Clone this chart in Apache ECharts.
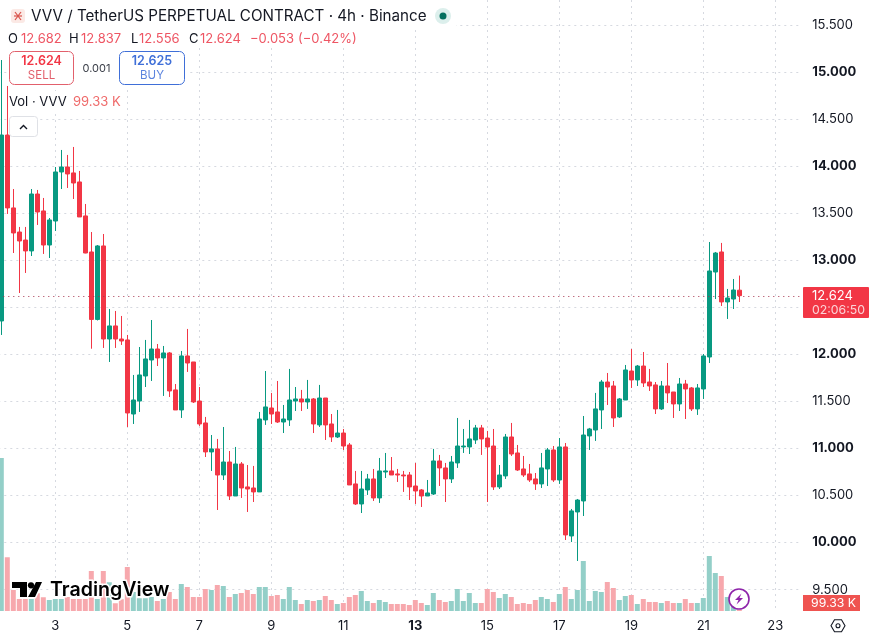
<!DOCTYPE html>
<html>
<head>
<meta charset="utf-8">
<title>VVV / TetherUS Perpetual 4h</title>
<style>html,body{margin:0;padding:0;background:#fff}#chart{width:874px;height:639px}</style>
<script src="https://cdn.jsdelivr.net/npm/echarts@6/dist/echarts.min.js"></script>
</head>
<body>
<div id="chart"></div>
<script>
// 4h candles, one value per bar
const opens = [12.355,14.331,13.556,13.300,13.215,13.099,13.704,13.524,13.162,13.417,
13.938,13.991,13.928,13.832,13.471,13.088,12.371,13.152,12.163,12.302,
12.163,12.153,11.366,11.504,11.770,11.940,12.057,11.962,12.015,11.622,
11.409,11.983,11.919,11.504,11.271,10.963,10.995,10.718,10.856,10.495,
10.835,10.591,10.580,10.538,11.303,11.430,11.388,11.281,11.303,11.504,
11.526,11.494,11.526,11.250,11.536,11.260,11.122,11.164,11.037,10.623,
10.410,10.559,10.676,10.474,10.750,10.761,10.729,10.718,10.718,10.601,
10.559,10.495,10.516,10.867,10.793,10.676,10.846,11.016,11.016,11.090,
11.218,11.111,11.026,10.591,10.708,11.122,10.952,10.782,10.729,10.676,
10.623,10.782,10.984,10.665,11.016,10.070,10.325,10.442,11.133,11.196,
11.409,11.706,11.664,11.335,11.515,11.823,11.728,11.876,11.706,11.675,
11.420,11.664,11.600,11.473,11.685,11.643,11.420,11.632,11.972,12.875,
13.088,12.557,12.588,12.682];
const closes = [14.331,13.556,13.290,13.205,13.099,13.704,13.513,13.162,13.428,13.938,
13.991,13.917,13.821,13.460,13.077,12.371,13.152,12.163,12.302,12.163,
12.142,11.377,11.515,11.781,11.951,12.057,11.962,12.015,11.611,11.409,
11.983,11.908,11.494,11.260,10.963,10.995,10.718,10.856,10.495,10.835,
10.580,10.569,10.538,11.313,11.441,11.366,11.281,11.313,11.515,11.526,
11.494,11.526,11.260,11.536,11.250,11.122,11.164,11.026,10.612,10.410,
10.569,10.676,10.474,10.761,10.761,10.718,10.718,10.708,10.591,10.548,
10.495,10.527,10.867,10.793,10.676,10.856,11.026,11.026,11.101,11.218,
11.101,11.016,10.591,10.718,11.122,10.941,10.771,10.718,10.665,10.623,
10.793,10.984,10.665,11.016,10.081,10.336,10.452,11.143,11.207,11.420,
11.706,11.653,11.324,11.526,11.834,11.728,11.876,11.696,11.664,11.420,
11.664,11.590,11.473,11.685,11.632,11.420,11.643,11.983,12.886,13.077,
12.557,12.599,12.684,12.624];
const lows = [12.206,13.492,13.077,12.652,12.865,13.045,13.375,13.067,13.024,13.311,
13.757,13.768,13.651,13.460,13.074,12.060,12.360,12.068,11.919,12.068,
12.100,11.228,11.260,11.388,11.653,11.717,11.876,11.558,11.547,11.409,
11.324,11.813,11.483,11.239,10.909,10.761,10.346,10.665,10.452,10.495,
10.474,10.325,10.431,10.538,11.250,11.260,11.271,11.164,11.239,11.398,
11.398,11.420,11.164,11.228,11.090,11.069,11.111,10.984,10.612,10.399,
10.314,10.506,10.442,10.421,10.686,10.718,10.644,10.538,10.452,10.410,
10.378,10.495,10.506,10.601,10.431,10.633,10.793,10.952,10.941,11.048,
10.931,10.431,10.559,10.569,10.676,10.920,10.761,10.697,10.644,10.559,
10.580,10.601,10.644,10.623,10.027,10.006,9.804,10.282,10.984,11.080,
11.207,11.462,11.228,11.324,11.515,11.643,11.664,11.653,11.611,11.366,
11.409,11.483,11.324,11.398,11.313,11.398,11.356,11.526,11.908,12.588,
12.514,12.376,12.482,12.556];
const highs = [15.128,14.852,13.757,13.354,13.354,13.757,13.747,13.662,13.449,13.991,
14.172,14.119,14.204,13.949,13.598,13.300,13.162,13.279,12.482,12.461,
12.408,12.206,11.781,12.078,12.153,12.365,12.110,12.089,12.025,11.685,
12.036,12.270,11.919,11.653,11.335,11.143,11.101,11.228,10.973,11.016,
10.856,10.824,10.814,11.388,11.823,11.590,11.717,11.462,11.845,11.653,
11.622,11.728,11.536,11.675,11.536,11.366,11.409,11.207,11.058,10.761,
10.761,10.729,10.782,10.899,10.952,10.909,10.782,10.761,10.750,10.846,
10.569,10.665,10.995,10.931,10.846,10.920,11.324,11.207,11.303,11.250,
11.250,11.186,11.207,10.824,11.154,11.271,11.037,10.920,10.835,10.739,
10.952,11.005,11.026,11.111,11.058,10.357,10.463,11.345,11.218,11.590,
11.728,11.802,11.717,11.536,11.887,12.057,11.887,12.025,11.845,11.706,
11.717,11.908,11.600,11.749,11.728,11.653,11.685,12.004,13.194,13.088,
13.184,12.695,12.801,12.837];
// Volume per bar, thousands of VVV
const volumes = [12240,4300,1680,960,960,960,1420,1100,880,960,
960,1120,960,960,960,3200,960,3200,2300,620,
940,3520,1520,1020,1020,1120,800,960,1520,960,
2160,1920,1120,1120,1760,1680,2080,2000,1120,1360,
1440,1680,1360,1920,1920,1200,1280,960,1920,880,
560,880,800,880,1200,880,560,640,1120,1280,
1600,800,640,880,720,560,560,560,480,880,
640,480,1440,880,720,800,1760,800,1440,640,
640,1760,1520,1040,1360,1120,560,640,560,880,
1120,960,720,1360,1920,960,1680,4000,800,1600,
1520,2320,1840,880,1200,1280,560,960,720,720,
640,800,640,640,960,640,640,1040,4400,3040,
2800,1120,480,99.33];
const dayLabels = ['3','5','7','9','11','13','15','17','19','21','23'];
const boldDay = '13';
const barCount = 134;      // 124 bars plus empty space to the right
const firstDayBar = 9;
const barsPerTwoDays = 12;

const UP = '#089981', DOWN = '#F23645';
const UP_VOL = '#93cfc8', DOWN_VOL = '#f7a8ad';
const INK = '#131722', GRID = '#d6d9e0';
const FONT = 'Inter, "Noto Sans", sans-serif';

const categories = new Array(barCount).fill('');
dayLabels.forEach((d, i) => { categories[firstDayBar + i * barsPerTwoDays] = d; });

const ohlc = opens.map((o, i) => [o, closes[i], lows[i], highs[i]]);
const volumeBars = volumes.map((v, i) => ({
  value: v,
  itemStyle: { color: closes[i] >= opens[i] ? UP_VOL : DOWN_VOL }
}));
const lastClose = closes[closes.length - 1];

const isDayTick = (idx) => categories[idx] !== '';

function txt(text, x, y, font, fill, align) {
  return { type: 'text', z: 20, silent: true,
    style: { text, x, y: y + 0.8, font, fill, align: align || 'left', verticalAlign: 'middle' } };
}
function box(x, y, width, height, fill, stroke, r) {
  return { type: 'rect', z: 19, silent: true, shape: { x, y, width, height, r: r || 0 },
    style: { fill, stroke: stroke || null, lineWidth: stroke ? 1 : 0 } };
}
function poly(points, style, z) {
  return { type: 'polygon', z: z || 20, silent: true, shape: { points }, style };
}
function stroke(points, color, width) {
  return { type: 'polyline', z: 20, silent: true, shape: { points },
    style: { stroke: color, lineWidth: width, fill: null } };
}

const f13 = '13px ' + FONT, RED_SOFT = '#ee5563';
const logoT = [[12,582],[27,582],[27,597],[20,597],[20,588],[12,588]];
const logoSlash = [[36,582],[42,582],[35,597],[28,597]];

const overlay = [
  // legend background keeps grid dots away from the text
  box(0, 0, 456, 28, '#fff'), box(0, 28, 362, 20, '#fff'),
  box(8, 48, 182, 38, '#fff'), box(8, 91, 118, 19, '#fff'),

  // symbol title
  box(11, 9, 14, 14, '#fbe9e5', null, 3),
  stroke([[15,12],[21,20]], '#d9534a', 1.2),
  stroke([[21,12],[15,20]], '#d9534a', 1.2),
  stroke([[14,16],[22,16]], '#d9534a', 1.2),
  txt('VVV / TetherUS PERPETUAL CONTRACT · 4h · Binance', 31, 16, '15.2px ' + FONT, INK),
  { type: 'circle', z: 20, silent: true, shape: { cx: 443, cy: 16, r: 8 }, style: { fill: '#dcefec' } },
  { type: 'circle', z: 21, silent: true, shape: { cx: 443, cy: 16, r: 3.5 }, style: { fill: '#05705f' } },

  // OHLC row
  txt('O', 8, 38, f13, INK), txt('12.682', 21, 38, f13, RED_SOFT),
  txt('H', 69, 38, f13, INK), txt('12.837', 81, 38, f13, RED_SOFT),
  txt('L', 131, 38, f13, INK), txt('12.556', 139, 38, f13, RED_SOFT),
  txt('C', 189, 38, f13, INK), txt('12.624', 200, 38, f13, RED_SOFT),
  txt('−0.053', 250, 38, f13, RED_SOFT), txt('(−0.42%)', 298, 38, f13, RED_SOFT),

  // bid / ask boxes
  box(9.5, 51.5, 64, 33, '#fff', '#e2606c', 5),
  txt('12.624', 41.5, 60.5, '600 12.5px ' + FONT, DOWN, 'center'),
  txt('SELL', 41.5, 75, '11.5px ' + FONT, '#e2606c', 'center'),
  txt('0.001', 96.5, 68, '11px ' + FONT, '#3a3e48', 'center'),
  box(119.5, 51.5, 65, 33, '#fff', '#3f6fd8', 5),
  txt('12.625', 152, 60.5, '600 12.5px ' + FONT, '#3f6fd8', 'center'),
  txt('BUY', 152, 75, '11.5px ' + FONT, '#5c84de', 'center'),

  // volume legend and collapse button
  txt('Vol · VVV', 9, 101, f13, INK),
  txt('99.33 K', 73, 101, f13, '#ef6a6a'),
  box(9.5, 116.5, 28, 20, '#fff', '#dfe1e6', 3),
  stroke([[20,129],[23.5,125.5],[27,129]], INK, 1.4),

  // last price tag
  box(803, 287, 66, 31, '#F23645', null, 1),
  txt('12.624', 812, 295.5, f13, '#fff'),
  txt('02:06:50', 812, 310, '12.3px ' + FONT, '#fbd3d7'),

  // volume tag
  box(803, 595, 57, 16, '#ef5350', null, 0),
  txt('99.33 K', 811, 603, '12.3px ' + FONT, '#fff'),

  // settings glyph
  poly([[831,625.7],[834.5,619.7],[841.5,619.7],[845,625.7],[841.5,631.7],[834.5,631.7]], { stroke: INK, lineWidth: 1.1, fill: null }),
  { type: 'circle', z: 20, silent: true, shape: { cx: 838, cy: 625.7, r: 2 }, style: { stroke: INK, lineWidth: 1.1, fill: null } },

  // brand mark
  poly(logoT, { fill: '#000', stroke: '#fff', lineWidth: 3 }, 20),
  poly(logoSlash, { fill: '#000', stroke: '#fff', lineWidth: 3 }, 20),
  poly(logoT, { fill: '#000' }, 21),
  poly(logoSlash, { fill: '#000' }, 21),
  { type: 'circle', z: 21, silent: true, shape: { cx: 31, cy: 585.3, r: 3.1 }, style: { fill: '#000' } },
  { type: 'text', z: 21, silent: true, style: { text: 'TradingView', x: 50, y: 590.5, font: '600 19.6px ' + FONT, fill: '#000', stroke: '#fff', lineWidth: 3, verticalAlign: 'middle' } },

  // streaming badge
  { type: 'circle', z: 20, silent: true, shape: { cx: 739, cy: 599, r: 10 }, style: { fill: '#fff', stroke: '#8e24aa', lineWidth: 1.6 } },
  poly([[741.5,593.5],[735,600],[738.5,600],[736.5,604.5],[743,598],[739.5,598]], { fill: '#8e24aa' }, 21)
];

const option = {
  animation: false,
  backgroundColor: '#fff',
  graphic: overlay,
  grid: [
    // price pane: 94.1 px per unit, 12.5 sits at y = 307.3
    { left: -1.7, width: 804, top: -22.05, height: 658.7, outerBoundsMode: 'none' },
    // volume pane reaches the pane top so the vertical dots span the full height
    { left: -1.7, width: 804, top: 0, height: 611, outerBoundsMode: 'none' }
  ],
  xAxis: [
    { type: 'category', gridIndex: 0, data: categories, show: false },
    {
      type: 'category', gridIndex: 1, data: categories,
      axisLine: { show: false },
      axisTick: { show: false, alignWithLabel: true },
      axisLabel: {
        interval: (idx) => isDayTick(idx),
        margin: 9, fontFamily: FONT, fontSize: 13, color: INK,
        formatter: (v) => v === boldDay ? '{b|' + v + '}' : v,
        rich: { b: { fontFamily: FONT, fontSize: 13, fontWeight: 700, color: INK } }
      },
      splitLine: {
        show: true, alignWithLabel: true,
        interval: (idx) => isDayTick(idx),
        lineStyle: { color: GRID, type: [2, 4], width: 1 }
      }
    }
  ],
  yAxis: [
    {
      type: 'value', gridIndex: 0, position: 'right', min: 9, max: 16, interval: 0.5,
      axisLine: { show: false }, axisTick: { show: false },
      axisLabel: {
        margin: 10, fontFamily: FONT, fontSize: 13, color: INK,
        formatter: (v) => (v < 9.5 || v > 15.5) ? '' : (v % 1 === 0 ? '{b|' + v.toFixed(3) + '}' : v.toFixed(3)),
        rich: { b: { fontFamily: FONT, fontSize: 13, fontWeight: 700, color: INK } }
      },
      splitLine: { show: true, showMinLine: false, showMaxLine: false, lineStyle: { color: GRID, type: [2, 4], width: 1 } }
    },
    { type: 'value', gridIndex: 1, min: 0, max: 48880, show: false, splitLine: { show: false } }
  ],
  series: [
    {
      type: 'bar', name: 'Vol', xAxisIndex: 1, yAxisIndex: 1,
      data: volumeBars, barWidth: 5, z: 2, silent: true
    },
    {
      type: 'candlestick', name: 'VVV', xAxisIndex: 0, yAxisIndex: 0,
      data: ohlc, barWidth: 4, z: 3, silent: true,
      itemStyle: { color: UP, color0: DOWN, borderColor: UP, borderColor0: DOWN, borderWidth: 1 },
      markLine: {
        silent: true, symbol: 'none', label: { show: false }, animation: false,
        lineStyle: { color: '#a5304a', type: [1, 4], width: 1 },
        data: [{ yAxis: lastClose }]
      }
    }
  ]
};

echarts.init(document.getElementById('chart'), null, { renderer: 'canvas' }).setOption(option);
</script>
</body>
</html>
